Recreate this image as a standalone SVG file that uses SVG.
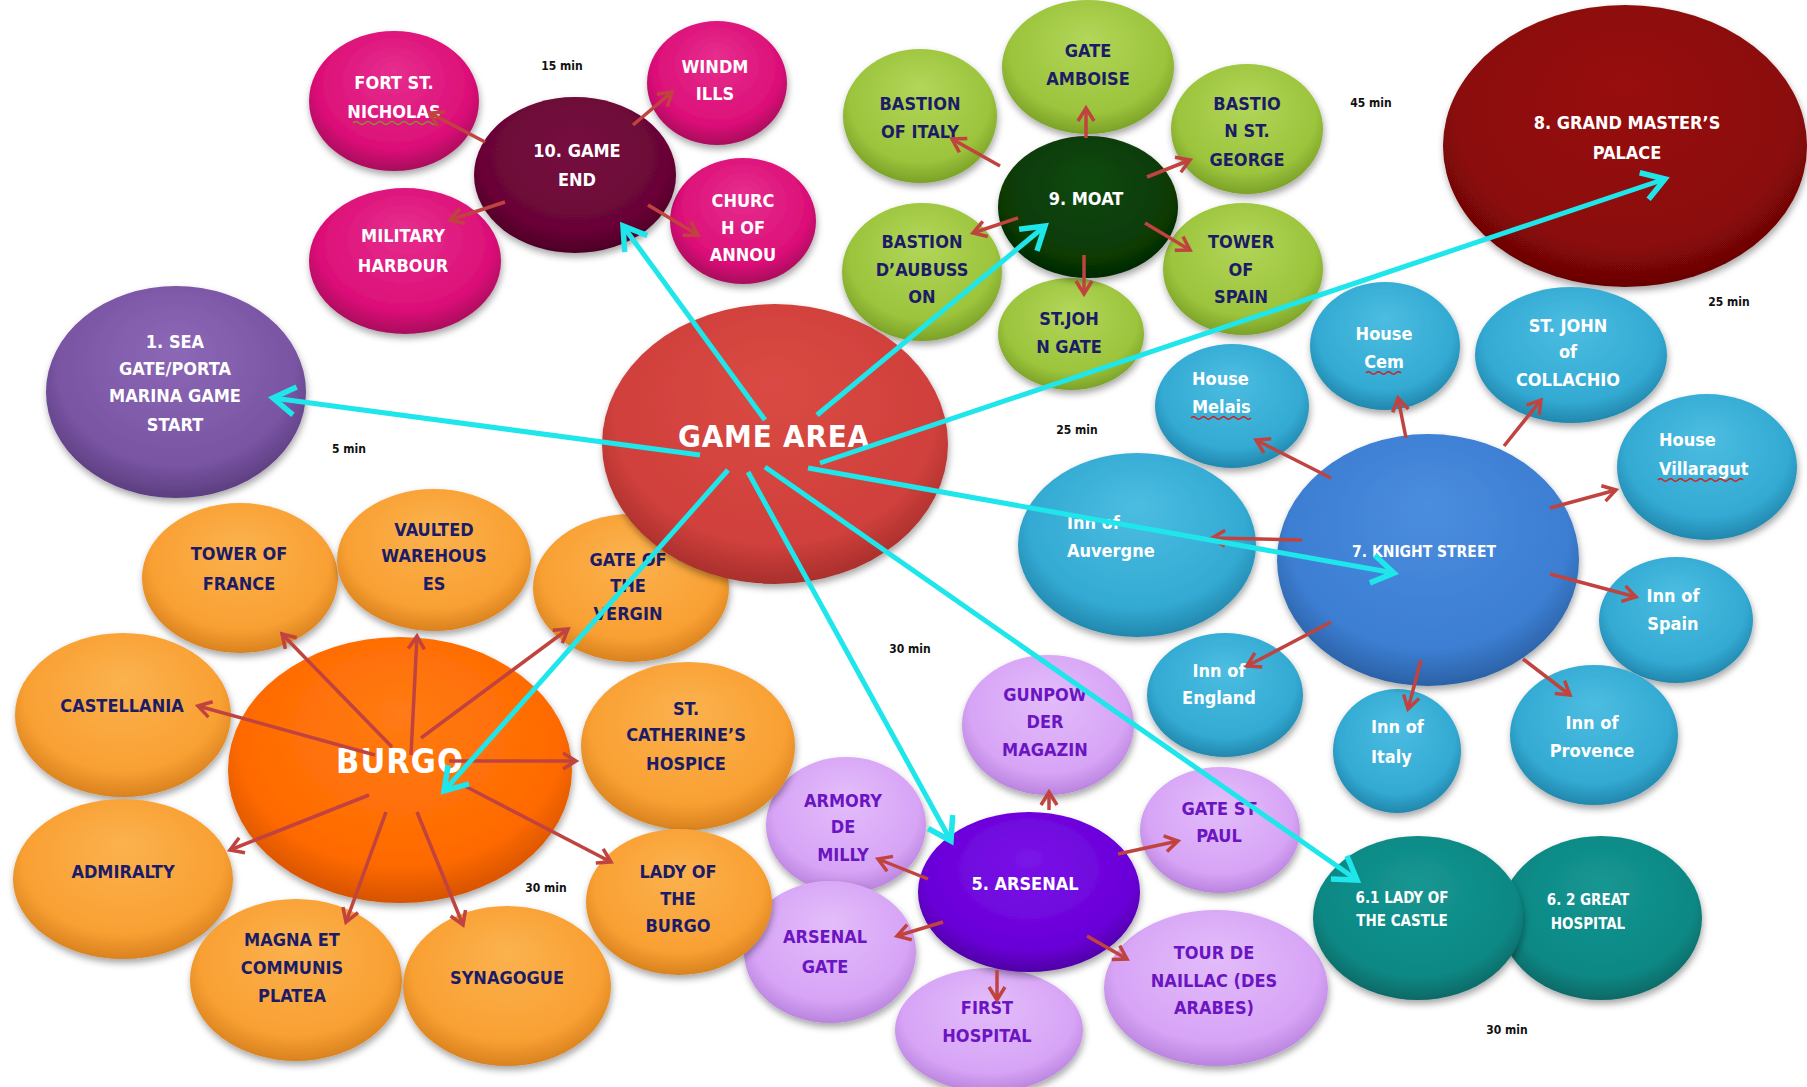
<svg xmlns="http://www.w3.org/2000/svg" width="1807" height="1087" viewBox="0 0 1807 1087">
  <defs>
    <style>
      .t { font-family: "Liberation Sans Narrow", "DejaVu Sans Condensed", "Liberation Sans", sans-serif; font-weight: bold; font-stretch: condensed; text-anchor: middle; font-size: 18px; letter-spacing: 0px; }
      .s { text-anchor: start; }
      .w { fill: #ffffff; }
      .nv { fill: #1c1c66; }
      .pu { fill: #6a14c2; }
      .big { font-size: 31px; letter-spacing: 0.8px; }
      .mid { font-size: 15.5px; }
      .sm { font-size: 15px; }
      .time { font-family: "Liberation Sans Narrow", "DejaVu Sans Condensed", "Liberation Sans", sans-serif; font-weight: bold; font-size: 12px; fill: #111111; text-anchor: middle; }
      .node ellipse { filter: url(#shadow); }
      .red { stroke: #c0433f; stroke-width: 3.5; fill: none; marker-end: url(#redHead); }
      .cyan { stroke: #1ee6ea; stroke-width: 5; fill: none; marker-end: url(#cyanHead); }
      .wave { fill: none; stroke-width: 1.3; }
    </style>
    <filter id="shadow" x="-20%" y="-20%" width="140%" height="150%">
      <feDropShadow dx="1" dy="4" stdDeviation="3.5" flood-color="#000000" flood-opacity="0.35"/>
    </filter>
    <marker id="redHead" markerUnits="userSpaceOnUse" markerWidth="30" markerHeight="30" viewBox="-20 -15 30 30" refX="0" refY="0" orient="auto">
      <path d="M-13,-8 L0,0 L-13,8" fill="none" stroke="#c0433f" stroke-width="3.5" stroke-linejoin="miter"/>
    </marker>
    <marker id="cyanHead" markerUnits="userSpaceOnUse" markerWidth="50" markerHeight="50" viewBox="-30 -25 50 50" refX="0" refY="0" orient="auto">
      <path d="M-22,-14 L0,0 L-22,14" fill="none" stroke="#1ee6ea" stroke-width="5.5" stroke-linejoin="miter"/>
    </marker>
    <radialGradient id="gMag" cx="50%" cy="42%" r="58%" fx="50%" fy="28%">
      <stop offset="0" stop-color="#e62e8e"/><stop offset="0.78" stop-color="#dc0f78"/><stop offset="1" stop-color="#a80a5c"/>
    </radialGradient>
    <radialGradient id="gMaroon" cx="50%" cy="42%" r="58%" fx="50%" fy="28%">
      <stop offset="0" stop-color="#761040"/><stop offset="0.8" stop-color="#6a0536"/><stop offset="1" stop-color="#4c0326"/>
    </radialGradient>
    <radialGradient id="gPurple" cx="50%" cy="42%" r="58%" fx="50%" fy="28%">
      <stop offset="0" stop-color="#8c68b6"/><stop offset="0.78" stop-color="#7a55a4"/><stop offset="1" stop-color="#5c3e80"/>
    </radialGradient>
    <radialGradient id="gRed" cx="50%" cy="42%" r="58%" fx="50%" fy="28%">
      <stop offset="0" stop-color="#da4a44"/><stop offset="0.8" stop-color="#d0403c"/><stop offset="1" stop-color="#a82f2c"/>
    </radialGradient>
    <radialGradient id="gMoat" cx="50%" cy="42%" r="58%" fx="50%" fy="28%">
      <stop offset="0" stop-color="#0e4a0c"/><stop offset="0.8" stop-color="#083a06"/><stop offset="1" stop-color="#042804"/>
    </radialGradient>
    <radialGradient id="gLime" cx="50%" cy="42%" r="58%" fx="50%" fy="28%">
      <stop offset="0" stop-color="#b2d65a"/><stop offset="0.78" stop-color="#9cc43c"/><stop offset="1" stop-color="#7ba228"/>
    </radialGradient>
    <radialGradient id="gPalace" cx="50%" cy="42%" r="58%" fx="50%" fy="28%">
      <stop offset="0" stop-color="#980e0e"/><stop offset="0.8" stop-color="#8b0808"/><stop offset="1" stop-color="#680505"/>
    </radialGradient>
    <radialGradient id="gBlue" cx="50%" cy="42%" r="58%" fx="50%" fy="28%">
      <stop offset="0" stop-color="#4b8ddf"/><stop offset="0.8" stop-color="#3c7ed2"/><stop offset="1" stop-color="#2b61a6"/>
    </radialGradient>
    <radialGradient id="gSky" cx="50%" cy="42%" r="58%" fx="50%" fy="28%">
      <stop offset="0" stop-color="#4cbde1"/><stop offset="0.78" stop-color="#33aad3"/><stop offset="1" stop-color="#2287ad"/>
    </radialGradient>
    <radialGradient id="gViolet" cx="50%" cy="42%" r="58%" fx="50%" fy="28%">
      <stop offset="0" stop-color="#7a14e8"/><stop offset="0.8" stop-color="#6a00d8"/><stop offset="1" stop-color="#4f00a6"/>
    </radialGradient>
    <radialGradient id="gLav" cx="50%" cy="42%" r="58%" fx="50%" fy="28%">
      <stop offset="0" stop-color="#e3bdfa"/><stop offset="0.78" stop-color="#d7a4f6"/><stop offset="1" stop-color="#ba84de"/>
    </radialGradient>
    <radialGradient id="gTeal" cx="50%" cy="42%" r="58%" fx="50%" fy="28%">
      <stop offset="0" stop-color="#149692"/><stop offset="0.8" stop-color="#0e8884"/><stop offset="1" stop-color="#096966"/>
    </radialGradient>
    <radialGradient id="gOrange" cx="50%" cy="42%" r="58%" fx="50%" fy="28%">
      <stop offset="0" stop-color="#ff7b14"/><stop offset="0.8" stop-color="#ff6a00"/><stop offset="1" stop-color="#d65300"/>
    </radialGradient>
    <radialGradient id="gAmber" cx="50%" cy="42%" r="58%" fx="50%" fy="28%">
      <stop offset="0" stop-color="#fbb24e"/><stop offset="0.78" stop-color="#f9a033"/><stop offset="1" stop-color="#d9821f"/>
    </radialGradient>
  </defs>

  <rect width="1807" height="1087" fill="#ffffff"/>

  <!-- 10. GAME END cluster -->
  <g id="n-fort-st-nicholas" class="node">
    <ellipse cx="394" cy="101" rx="85" ry="70" fill="url(#gMag)"/>
    <text class="t w" x="394" y="89">FORT ST.</text>
    <text class="t w" x="394" y="118">NICHOLAS</text>
    <path class="wave" stroke="#7a9a2a" d="M353,123 q3,-3 6,0 t6,0 t6,0 t6,0 t6,0 t6,0 t6,0 t6,0 t6,0 t6,0 t6,0 t6,0 t6,0 t6,0"/>
  </g>
  <g id="n-windmills" class="node">
    <ellipse cx="717" cy="83" rx="70" ry="62" fill="url(#gMag)"/>
    <text class="t w" x="715" y="73">WINDM</text>
    <text class="t w" x="715" y="100">ILLS</text>
  </g>
  <g id="n-military-harbour" class="node">
    <ellipse cx="405" cy="261" rx="96" ry="73" fill="url(#gMag)"/>
    <text class="t w" x="403" y="242">MILITARY</text>
    <text class="t w" x="403" y="272">HARBOUR</text>
  </g>
  <g id="n-church-annou" class="node">
    <ellipse cx="743" cy="221" rx="73" ry="63" fill="url(#gMag)"/>
    <text class="t w" x="743" y="207">CHURC</text>
    <text class="t w" x="743" y="234">H OF</text>
    <text class="t w" x="743" y="261">ANNOU</text>
  </g>
  <g id="n-game-end" class="node">
    <ellipse cx="575" cy="175" rx="101" ry="78" fill="url(#gMaroon)"/>
    <text class="t w" x="577" y="157">10. GAME</text>
    <text class="t w" x="577" y="186">END</text>
  </g>

  <!-- 1. SEA GATE -->
  <g id="n-sea-gate" class="node">
    <ellipse cx="176" cy="392" rx="130" ry="106" fill="url(#gPurple)"/>
    <text class="t w" x="175" y="348">1. SEA</text>
    <text class="t w" x="175" y="375">GATE/PORTA</text>
    <text class="t w" x="175" y="402">MARINA GAME</text>
    <text class="t w" x="175" y="431">START</text>
  </g>

  <!-- 9. MOAT cluster -->
  <g id="n-gate-amboise" class="node">
    <ellipse cx="1088" cy="67" rx="86" ry="67" fill="url(#gLime)"/>
    <text class="t nv" x="1088" y="57">GATE</text>
    <text class="t nv" x="1088" y="85">AMBOISE</text>
  </g>
  <g id="n-bastion-italy" class="node">
    <ellipse cx="920" cy="116" rx="77" ry="67" fill="url(#gLime)"/>
    <text class="t nv" x="920" y="110">BASTION</text>
    <text class="t nv" x="920" y="138">OF ITALY</text>
  </g>
  <g id="n-bastion-st-george" class="node">
    <ellipse cx="1247" cy="129" rx="76" ry="65" fill="url(#gLime)"/>
    <text class="t nv" x="1247" y="110">BASTIO</text>
    <text class="t nv" x="1247" y="137">N ST.</text>
    <text class="t nv" x="1247" y="166">GEORGE</text>
  </g>
  <g id="n-bastion-aubusson" class="node">
    <ellipse cx="922" cy="272" rx="80" ry="69" fill="url(#gLime)"/>
    <text class="t nv" x="922" y="248">BASTION</text>
    <text class="t nv" x="922" y="276">D’AUBUSS</text>
    <text class="t nv" x="922" y="303">ON</text>
  </g>
  <g id="n-tower-of-spain" class="node">
    <ellipse cx="1243" cy="269" rx="80" ry="66" fill="url(#gLime)"/>
    <text class="t nv" x="1241" y="248">TOWER</text>
    <text class="t nv" x="1241" y="276">OF</text>
    <text class="t nv" x="1241" y="303">SPAIN</text>
  </g>
  <g id="n-st-john-gate" class="node">
    <ellipse cx="1071" cy="334" rx="73" ry="56" fill="url(#gLime)"/>
    <text class="t nv" x="1069" y="325">ST.JOH</text>
    <text class="t nv" x="1069" y="353">N GATE</text>
  </g>
  <g id="n-moat" class="node">
    <ellipse cx="1088" cy="207" rx="90" ry="71" fill="url(#gMoat)"/>
    <text class="t w" x="1086" y="205">9. MOAT</text>
  </g>

  <!-- 8. GRAND MASTER'S PALACE -->
  <g id="n-grand-master-palace" class="node">
    <ellipse cx="1625" cy="146" rx="182" ry="141" fill="url(#gPalace)"/>
    <text class="t w" x="1627" y="129">8. GRAND MASTER’S</text>
    <text class="t w" x="1627" y="159">PALACE</text>
  </g>

  <!-- 7. KNIGHT STREET cluster -->
  <g id="n-house-cem" class="node">
    <ellipse cx="1385" cy="346" rx="75" ry="64" fill="url(#gSky)"/>
    <text class="t w" x="1384" y="340">House</text>
    <text class="t w" x="1384" y="368">Cem</text>
    <path class="wave" stroke="#d02020" d="M1366,373 q2.5,-2.5 5,0 t5,0 t5,0 t5,0 t5,0 t5,0 t5,0"/>
  </g>
  <g id="n-st-john-collachio" class="node">
    <ellipse cx="1571" cy="355" rx="96" ry="68" fill="url(#gSky)"/>
    <text class="t w" x="1568" y="332">ST. JOHN</text>
    <text class="t w" x="1568" y="358">of</text>
    <text class="t w" x="1568" y="386">COLLACHIO</text>
  </g>
  <g id="n-house-melais" class="node">
    <ellipse cx="1232" cy="406" rx="77" ry="62" fill="url(#gSky)"/>
    <text class="t w s" x="1192" y="385">House</text>
    <text class="t w s" x="1192" y="413">Melais</text>
    <path class="wave" stroke="#d02020" d="M1191,418 q2.5,-2.5 5,0 t5,0 t5,0 t5,0 t5,0 t5,0 t5,0 t5,0 t5,0 t5,0 t5,0 t5,0"/>
  </g>
  <g id="n-house-villaragut" class="node">
    <ellipse cx="1707" cy="467" rx="90" ry="73" fill="url(#gSky)"/>
    <text class="t w s" x="1659" y="446">House</text>
    <text class="t w s" x="1659" y="475">Villaragut</text>
    <path class="wave" stroke="#d02020" d="M1658,480 q2.5,-2.5 5,0 t5,0 t5,0 t5,0 t5,0 t5,0 t5,0 t5,0 t5,0 t5,0 t5,0 t5,0 t5,0 t5,0 t5,0 t5,0 t5,0"/>
  </g>
  <g id="n-inn-auvergne" class="node">
    <ellipse cx="1137" cy="545" rx="119" ry="92" fill="url(#gSky)"/>
    <text class="t w s" x="1067" y="529">Inn of</text>
    <text class="t w s" x="1067" y="557">Auvergne</text>
  </g>
  <g id="n-inn-spain" class="node">
    <ellipse cx="1676" cy="620" rx="77" ry="63" fill="url(#gSky)"/>
    <text class="t w" x="1673" y="602">Inn of</text>
    <text class="t w" x="1673" y="630">Spain</text>
  </g>
  <g id="n-inn-england" class="node">
    <ellipse cx="1225" cy="695" rx="78" ry="62" fill="url(#gSky)"/>
    <text class="t w" x="1219" y="677">Inn of</text>
    <text class="t w" x="1219" y="704">England</text>
  </g>
  <g id="n-inn-italy" class="node">
    <ellipse cx="1397" cy="751" rx="64" ry="62" fill="url(#gSky)"/>
    <text class="t w s" x="1371" y="733">Inn of</text>
    <text class="t w s" x="1371" y="763">Italy</text>
  </g>
  <g id="n-inn-provence" class="node">
    <ellipse cx="1594" cy="735" rx="84" ry="70" fill="url(#gSky)"/>
    <text class="t w" x="1592" y="729">Inn of</text>
    <text class="t w" x="1592" y="757">Provence</text>
  </g>
  <g id="n-knight-street" class="node">
    <ellipse cx="1428" cy="560" rx="151" ry="126" fill="url(#gBlue)"/>
    <text class="t w mid" x="1424" y="557">7. KNIGHT STREET</text>
  </g>

  <!-- 5. ARSENAL cluster -->
  <g id="n-gunpowder-magazin" class="node">
    <ellipse cx="1048" cy="725" rx="86" ry="70" fill="url(#gLav)"/>
    <text class="t pu" x="1045" y="701">GUNPOW</text>
    <text class="t pu" x="1045" y="728">DER</text>
    <text class="t pu" x="1045" y="756">MAGAZIN</text>
  </g>
  <g id="n-armory-de-milly" class="node">
    <ellipse cx="846" cy="825" rx="80" ry="68" fill="url(#gLav)"/>
    <text class="t pu" x="843" y="807">ARMORY</text>
    <text class="t pu" x="843" y="833">DE</text>
    <text class="t pu" x="843" y="861">MILLY</text>
  </g>
  <g id="n-gate-st-paul" class="node">
    <ellipse cx="1220" cy="830" rx="80" ry="63" fill="url(#gLav)"/>
    <text class="t pu" x="1219" y="815">GATE ST</text>
    <text class="t pu" x="1219" y="842">PAUL</text>
  </g>
  <g id="n-arsenal-gate" class="node">
    <ellipse cx="830" cy="952" rx="86" ry="71" fill="url(#gLav)"/>
    <text class="t pu" x="825" y="943">ARSENAL</text>
    <text class="t pu" x="825" y="973">GATE</text>
  </g>
  <g id="n-tour-de-naillac" class="node">
    <ellipse cx="1216" cy="988" rx="112" ry="78" fill="url(#gLav)"/>
    <text class="t pu" x="1214" y="959">TOUR DE</text>
    <text class="t pu" x="1214" y="987">NAILLAC (DES</text>
    <text class="t pu" x="1214" y="1014">ARABES)</text>
  </g>
  <g id="n-first-hospital" class="node">
    <ellipse cx="989" cy="1030" rx="94" ry="62" fill="url(#gLav)"/>
    <text class="t pu" x="987" y="1014">FIRST</text>
    <text class="t pu" x="987" y="1042">HOSPITAL</text>
  </g>
  <g id="n-arsenal" class="node">
    <ellipse cx="1029" cy="892" rx="111" ry="80" fill="url(#gViolet)"/>
    <text class="t w" x="1025" y="890">5. ARSENAL</text>
  </g>

  <!-- 6. castle / hospital pair -->
  <g id="n-great-hospital" class="node">
    <ellipse cx="1601" cy="918" rx="101" ry="82" fill="url(#gTeal)"/>
    <text class="t w sm" x="1588" y="905">6. 2 GREAT</text>
    <text class="t w sm" x="1588" y="929">HOSPITAL</text>
  </g>
  <g id="n-lady-of-the-castle" class="node">
    <ellipse cx="1418" cy="918" rx="105" ry="82" fill="url(#gTeal)"/>
    <text class="t w sm" x="1402" y="903">6.1 LADY OF</text>
    <text class="t w sm" x="1402" y="926">THE CASTLE</text>
  </g>

  <!-- BURGO cluster -->
  <g id="n-tower-of-france" class="node">
    <ellipse cx="240" cy="578" rx="98" ry="75" fill="url(#gAmber)"/>
    <text class="t nv" x="239" y="560">TOWER OF</text>
    <text class="t nv" x="239" y="590">FRANCE</text>
  </g>
  <g id="n-vaulted-warehouses" class="node">
    <ellipse cx="434" cy="560" rx="97" ry="71" fill="url(#gAmber)"/>
    <text class="t nv" x="434" y="536">VAULTED</text>
    <text class="t nv" x="434" y="562">WAREHOUS</text>
    <text class="t nv" x="434" y="590">ES</text>
  </g>
  <g id="n-gate-of-the-vergin" class="node">
    <ellipse cx="631" cy="588" rx="98" ry="74" fill="url(#gAmber)"/>
    <text class="t nv" x="628" y="566">GATE OF</text>
    <text class="t nv" x="628" y="592">THE</text>
    <text class="t nv" x="628" y="620">VERGIN</text>
  </g>
  <g id="n-castellania" class="node">
    <ellipse cx="123" cy="715" rx="108" ry="82" fill="url(#gAmber)"/>
    <text class="t nv" x="122" y="712">CASTELLANIA</text>
  </g>
  <g id="n-st-catherine-hospice" class="node">
    <ellipse cx="688" cy="746" rx="107" ry="84" fill="url(#gAmber)"/>
    <text class="t nv" x="686" y="715">ST.</text>
    <text class="t nv" x="686" y="741">CATHERINE’S</text>
    <text class="t nv" x="686" y="770">HOSPICE</text>
  </g>
  <g id="n-admiralty" class="node">
    <ellipse cx="123" cy="879" rx="110" ry="80" fill="url(#gAmber)"/>
    <text class="t nv" x="123" y="878">ADMIRALTY</text>
  </g>
  <g id="n-lady-of-the-burgo" class="node">
    <ellipse cx="679" cy="902" rx="93" ry="73" fill="url(#gAmber)"/>
    <text class="t nv" x="678" y="878">LADY OF</text>
    <text class="t nv" x="678" y="905">THE</text>
    <text class="t nv" x="678" y="932">BURGO</text>
  </g>
  <g id="n-magna-et-communis-platea" class="node">
    <ellipse cx="296" cy="980" rx="106" ry="81" fill="url(#gAmber)"/>
    <text class="t nv" x="292" y="946">MAGNA ET</text>
    <text class="t nv" x="292" y="974">COMMUNIS</text>
    <text class="t nv" x="292" y="1002">PLATEA</text>
  </g>
  <g id="n-synagogue" class="node">
    <ellipse cx="507" cy="986" rx="104" ry="80" fill="url(#gAmber)"/>
    <text class="t nv" x="507" y="984">SYNAGOGUE</text>
  </g>
  <g id="n-burgo" class="node">
    <ellipse cx="400" cy="770" rx="172" ry="133" fill="url(#gOrange)"/>
    <text class="t w" style="font-size:34px;letter-spacing:1px" x="400" y="773">BURGO</text>
  </g>

  <!-- central hub -->
  <g id="n-game-area" class="node">
    <ellipse cx="775" cy="444" rx="173" ry="140" fill="url(#gRed)"/>
    <text class="t w big" x="774" y="447">GAME AREA</text>
  </g>

  <!-- walking times -->
  <g id="times">
    <text class="time" x="562" y="70">15 min</text>
    <text class="time" x="1371" y="107">45 min</text>
    <text class="time" x="1729" y="306">25 min</text>
    <text class="time" x="349" y="453">5 min</text>
    <text class="time" x="1077" y="434">25 min</text>
    <text class="time" x="910" y="653">30 min</text>
    <text class="time" x="546" y="892">30 min</text>
    <text class="time" x="1507" y="1034">30 min</text>
  </g>

  <g id="connectors">
    <!-- cluster spokes -->
    <path class="red" d="M485,142 L430,113"/>
    <path class="red" d="M633,125 L672,92"/>
    <path class="red" d="M505,202 L450,220"/>
    <path class="red" d="M648,205 L698,235"/>

    <path class="red" d="M1086,138 L1086,108"/>
    <path class="red" d="M1000,166 L952,139"/>
    <path class="red" d="M1147,177 L1190,160"/>
    <path class="red" d="M1145,223 L1190,250"/>
    <path class="red" d="M1018,218 L973,233"/>
    <path class="red" d="M1084,255 L1084,294"/>

    <path class="red" d="M1331,478 L1256,440"/>
    <path class="red" d="M1406,438 L1398,398"/>
    <path class="red" d="M1504,446 L1541,400"/>
    <path class="red" d="M1550,508 L1616,490"/>
    <path class="red" d="M1550,574 L1636,597"/>
    <path class="red" d="M1523,659 L1570,695"/>
    <path class="red" d="M1421,660 L1408,709"/>
    <path class="red" d="M1331,622 L1247,666"/>
    <path class="red" d="M1302,540 L1212,538"/>

    <path class="red" d="M1049,810 L1049,792"/>
    <path class="red" d="M928,879 L878,859"/>
    <path class="red" d="M1118,854 L1178,841"/>
    <path class="red" d="M943,922 L897,936"/>
    <path class="red" d="M1087,936 L1127,959"/>
    <path class="red" d="M997,970 L997,1000"/>

    <path class="red" d="M392,747 L282,634"/>
    <path class="red" d="M411,755 L417,636"/>
    <path class="red" d="M421,738 L568,629"/>
    <path class="red" d="M375,755 L198,706"/>
    <path class="red" d="M449,761 L576,761"/>
    <path class="red" d="M369,795 L230,850"/>
    <path class="red" d="M386,812 L346,922"/>
    <path class="red" d="M417,812 L463,925"/>
    <path class="red" d="M461,784 L611,862"/>

    <!-- routes from the game area -->
    <path class="cyan" d="M700,455 L273,398"/>
    <path class="cyan" d="M765,420 L623,226"/>
    <path class="cyan" d="M817,415 L1045,226"/>
    <path class="cyan" d="M820,463 L1665,179"/>
    <path class="cyan" d="M808,468 L1394,573"/>
    <path class="cyan" d="M765,467 L1357,880"/>
    <path class="cyan" d="M748,472 L951,841"/>
    <path class="cyan" d="M728,470 L444,791"/>
  </g>
</svg>
